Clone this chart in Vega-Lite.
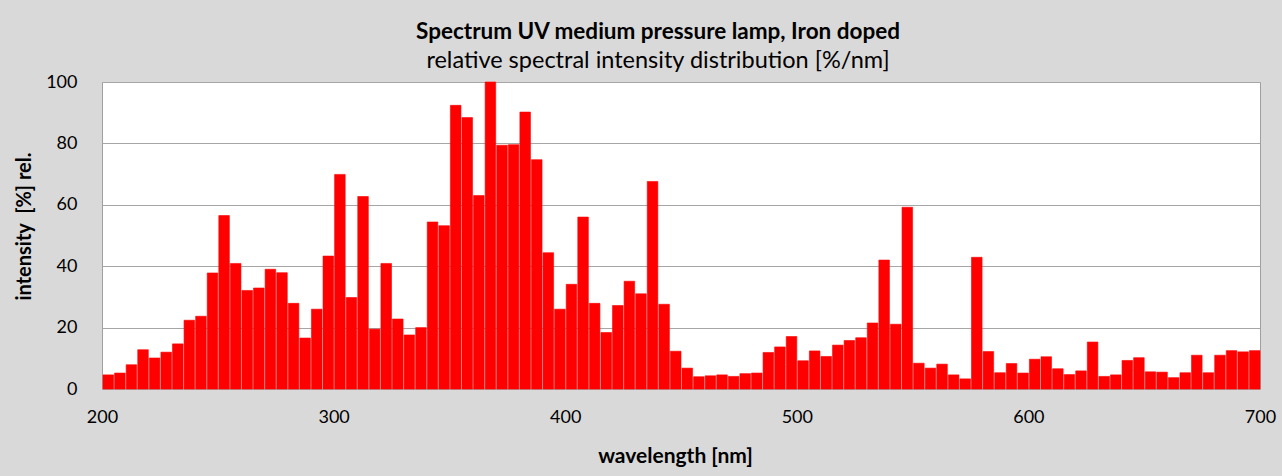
{
  "$schema": "https://vega.github.io/schema/vega-lite/v6.json",
  "width": 1158,
  "height": 307,
  "autosize": {"type": "none"},
  "padding": {"left": 102, "top": 82, "right": 22, "bottom": 87},
  "background": "#d9d9d9",
  "title": {
    "text": "Spectrum UV medium pressure lamp, Iron doped",
    "subtitle": "relative spectral intensity distribution [%/nm]",
    "anchor": "middle",
    "dx": -23,
    "offset": 1,
    "font": "Lato",
    "fontSize": 22.5,
    "fontWeight": "bold",
    "color": "#000000",
    "subtitleFont": "Lato",
    "subtitleFontSize": 23.5,
    "subtitleColor": "#000000",
    "subtitlePadding": 5
  },
  "config": {
    "view": {"stroke": "#a0a0a0", "strokeWidth": 1, "fill": "#ffffff"},
    "axis": {
      "labelFont": "Lato",
      "labelFontSize": 18,
      "labelColor": "#000000",
      "titleFont": "Lato",
      "titleFontSize": 18,
      "titleFontWeight": "bold",
      "titleColor": "#000000",
      "ticks": false,
      "tickSize": 0,
      "domain": false,
      "labelFlush": false
    }
  },
  "data": {
    "values": [
      {"from": 200, "to": 205, "intensity": 4.6},
      {"from": 205, "to": 210, "intensity": 5.2},
      {"from": 210, "to": 215, "intensity": 7.9},
      {"from": 215, "to": 220, "intensity": 12.8},
      {"from": 220, "to": 225, "intensity": 10.1},
      {"from": 225, "to": 230, "intensity": 12.0},
      {"from": 230, "to": 235, "intensity": 14.7},
      {"from": 235, "to": 240, "intensity": 22.4},
      {"from": 240, "to": 245, "intensity": 23.7},
      {"from": 245, "to": 250, "intensity": 37.8},
      {"from": 250, "to": 255, "intensity": 56.5},
      {"from": 255, "to": 260, "intensity": 40.9},
      {"from": 260, "to": 265, "intensity": 32.1},
      {"from": 265, "to": 270, "intensity": 32.9},
      {"from": 270, "to": 275, "intensity": 39.0},
      {"from": 275, "to": 280, "intensity": 37.9},
      {"from": 280, "to": 285, "intensity": 27.9},
      {"from": 285, "to": 290, "intensity": 16.6},
      {"from": 290, "to": 295, "intensity": 26.0},
      {"from": 295, "to": 300, "intensity": 43.3},
      {"from": 300, "to": 305, "intensity": 69.9},
      {"from": 305, "to": 310, "intensity": 29.8},
      {"from": 310, "to": 315, "intensity": 62.7},
      {"from": 315, "to": 320, "intensity": 19.5},
      {"from": 320, "to": 325, "intensity": 40.9},
      {"from": 325, "to": 330, "intensity": 22.8},
      {"from": 330, "to": 335, "intensity": 17.6},
      {"from": 335, "to": 340, "intensity": 20.0},
      {"from": 340, "to": 345, "intensity": 54.4},
      {"from": 345, "to": 350, "intensity": 53.2},
      {"from": 350, "to": 355, "intensity": 92.4},
      {"from": 355, "to": 360, "intensity": 88.4},
      {"from": 360, "to": 365, "intensity": 63.0},
      {"from": 365, "to": 370, "intensity": 100},
      {"from": 370, "to": 375, "intensity": 79.4},
      {"from": 375, "to": 380, "intensity": 79.6},
      {"from": 380, "to": 385, "intensity": 90.2},
      {"from": 385, "to": 390, "intensity": 74.7},
      {"from": 390, "to": 395, "intensity": 44.4},
      {"from": 395, "to": 400, "intensity": 26.0},
      {"from": 400, "to": 405, "intensity": 34.1},
      {"from": 405, "to": 410, "intensity": 56.0},
      {"from": 410, "to": 415, "intensity": 27.9},
      {"from": 415, "to": 420, "intensity": 18.4},
      {"from": 420, "to": 425, "intensity": 27.2},
      {"from": 425, "to": 430, "intensity": 35.1},
      {"from": 430, "to": 435, "intensity": 31.0},
      {"from": 435, "to": 440, "intensity": 67.6},
      {"from": 440, "to": 445, "intensity": 27.6},
      {"from": 445, "to": 450, "intensity": 12.3},
      {"from": 450, "to": 455, "intensity": 6.8},
      {"from": 455, "to": 460, "intensity": 4.0},
      {"from": 460, "to": 465, "intensity": 4.3},
      {"from": 465, "to": 470, "intensity": 4.6},
      {"from": 470, "to": 475, "intensity": 4.1},
      {"from": 475, "to": 480, "intensity": 5.0},
      {"from": 480, "to": 485, "intensity": 5.2},
      {"from": 485, "to": 490, "intensity": 11.9},
      {"from": 490, "to": 495, "intensity": 13.7},
      {"from": 495, "to": 500, "intensity": 17.1},
      {"from": 500, "to": 505, "intensity": 9.2},
      {"from": 505, "to": 510, "intensity": 12.4},
      {"from": 510, "to": 515, "intensity": 10.6},
      {"from": 515, "to": 520, "intensity": 14.3},
      {"from": 520, "to": 525, "intensity": 15.8},
      {"from": 525, "to": 530, "intensity": 16.7},
      {"from": 530, "to": 535, "intensity": 21.5},
      {"from": 535, "to": 540, "intensity": 42.0},
      {"from": 540, "to": 545, "intensity": 21.1},
      {"from": 545, "to": 550, "intensity": 59.2},
      {"from": 550, "to": 555, "intensity": 8.4},
      {"from": 555, "to": 560, "intensity": 6.8},
      {"from": 560, "to": 565, "intensity": 8.1},
      {"from": 565, "to": 570, "intensity": 4.6},
      {"from": 570, "to": 575, "intensity": 3.3},
      {"from": 575, "to": 580, "intensity": 42.9},
      {"from": 580, "to": 585, "intensity": 12.2},
      {"from": 585, "to": 590, "intensity": 5.3},
      {"from": 590, "to": 595, "intensity": 8.3},
      {"from": 595, "to": 600, "intensity": 5.2},
      {"from": 600, "to": 605, "intensity": 9.7},
      {"from": 605, "to": 610, "intensity": 10.5},
      {"from": 610, "to": 615, "intensity": 6.6},
      {"from": 615, "to": 620, "intensity": 4.7},
      {"from": 620, "to": 625, "intensity": 5.9},
      {"from": 625, "to": 630, "intensity": 15.3},
      {"from": 630, "to": 635, "intensity": 4.1},
      {"from": 635, "to": 640, "intensity": 4.6},
      {"from": 640, "to": 645, "intensity": 9.3},
      {"from": 645, "to": 650, "intensity": 10.2},
      {"from": 650, "to": 655, "intensity": 5.6},
      {"from": 655, "to": 660, "intensity": 5.5},
      {"from": 660, "to": 665, "intensity": 3.7},
      {"from": 665, "to": 670, "intensity": 5.3},
      {"from": 670, "to": 675, "intensity": 11.0},
      {"from": 675, "to": 680, "intensity": 5.3},
      {"from": 680, "to": 685, "intensity": 11.0},
      {"from": 685, "to": 690, "intensity": 12.5},
      {"from": 690, "to": 695, "intensity": 12.1},
      {"from": 695, "to": 700, "intensity": 12.5}
    ]
  },
  "mark": {"type": "bar", "color": "#ff0000", "stroke": "#ff0000", "strokeWidth": 0.6},
  "encoding": {
    "x": {
      "field": "from",
      "type": "quantitative",
      "bin": {"binned": true},
      "scale": {"domain": [200, 700], "nice": false, "zero": false, "padding": 0},
      "axis": {
        "values": [200, 300, 400, 500, 600, 700],
        "format": "d",
        "grid": false,
        "labelPadding": 19,
        "title": "wavelength [nm]",
        "titleFontSize": 21,
        "titleBaseline": "alphabetic",
        "titleAlign": "center",
        "titleX": 573,
        "titleY": 73
      }
    },
    "x2": {"field": "to"},
    "y": {
      "field": "intensity",
      "type": "quantitative",
      "scale": {"domain": [0, 100], "nice": false, "padding": 0},
      "axis": {
        "values": [0, 20, 40, 60, 80, 100],
        "grid": true,
        "gridColor": "#a6a6a6",
        "gridWidth": 1,
        "labelPadding": 25,
        "title": "intensity\u00a0\u00a0[%] rel.",
        "titleFontSize": 20,
        "titleAngle": -90,
        "titleBaseline": "alphabetic",
        "titleAlign": "center",
        "titleX": -72,
        "titleY": 144
      }
    }
  }
}
